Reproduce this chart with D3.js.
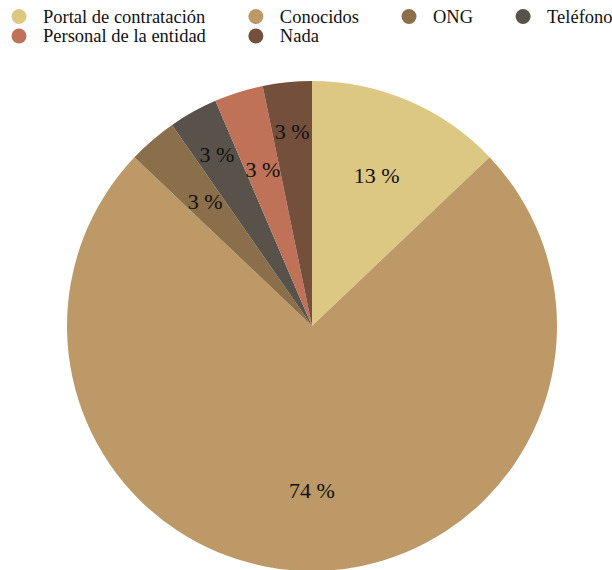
<!DOCTYPE html>
<html>
<head>
<meta charset="utf-8">
<script src="https://cdn.jsdelivr.net/npm/d3@7/dist/d3.min.js"></script>
<style>
  html, body { margin: 0; padding: 0; background: #fff; }
  svg { display: block; }
</style>
</head>
<body>
<svg id="chart" width="612" height="570"></svg>
<script>
// Answers: how people found out about the job offer (respondent counts)
const categories = [
  "Portal de contratación",
  "Conocidos",
  "ONG",
  "Teléfono",
  "Personal de la entidad",
  "Nada"
];
const counts = [4, 23, 1, 1, 1, 1];
const colors = ["#dcc783", "#bc9966", "#8a6f4a", "#58524a", "#bf7257", "#744f3c"];

const width = 612, height = 570;
const cx = 312, cy = 326, radius = 245;
const legendCols = 4;

const svg = d3.select("#chart");
const fontFamily = "'Liberation Serif', 'Times New Roman', Times, serif";

const data = categories.map((c, i) => ({ name: c, value: counts[i], color: colors[i] }));
const total = d3.sum(counts);

// ---- pie ----
const pie = d3.pie().value(d => d.value).sort(null);
const arcs = pie(data);
const arc = d3.arc().innerRadius(0).outerRadius(radius);

const g = svg.append("g").attr("transform", `translate(${cx},${cy})`);

g.selectAll("path.slice")
  .data(arcs)
  .join("path")
  .attr("class", "slice")
  .attr("d", arc)
  .attr("fill", d => d.data.color);

// labels: small neighbouring slices are staggered outward so their text does not collide
let run = 0;
const labelRadius = arcs.map(a => {
  const share = a.data.value / total;
  if (share < 0.05) {
    const r = run % 2 === 1 ? 0.8 : 0.67;
    run++;
    return r * radius;
  }
  run = 0;
  return 0.67 * radius;
});

g.selectAll("text.pct")
  .data(arcs)
  .join("text")
  .attr("class", "pct")
  .attr("transform", (d, i) => {
    const a = (d.startAngle + d.endAngle) / 2;
    const r = labelRadius[i];
    return `translate(${Math.sin(a) * r},${-Math.cos(a) * r})`;
  })
  .attr("text-anchor", "middle")
  .attr("dy", "0.35em")
  .attr("font-family", fontFamily)
  .attr("font-size", 22)
  .attr("fill", "#111")
  .text(d => `${Math.round(d.data.value / total * 100)} %`);

// ---- legend (row-wise flow, 4 columns) ----
const legendFont = 18.5;
const dotR = 7.5;
const rowY = [16.5, 36];
const textGap = 24;     // dot centre to label start
const itemGap = 50;     // label end to next dot centre

const legend = svg.append("g").attr("class", "legend");
const items = legend.selectAll("g.item")
  .data(data)
  .join("g")
  .attr("class", "item");

items.append("circle")
  .attr("r", dotR)
  .attr("fill", d => d.color);

items.append("text")
  .attr("x", textGap)
  .attr("y", 6)
  .attr("font-family", fontFamily)
  .attr("font-size", legendFont)
  .attr("fill", "#111")
  .text(d => d.name);

// column widths from the widest label in each column
const textW = [];
items.select("text").each(function (d, i) { textW[i] = this.getComputedTextLength(); });
const colW = d3.range(legendCols).map(c =>
  d3.max(textW.filter((w, i) => i % legendCols === c)));
const colX = [];
let x = 19;
for (let c = 0; c < legendCols; c++) {
  colX.push(x);
  x += textGap + colW[c] + itemGap;
}

items.attr("transform", (d, i) =>
  `translate(${colX[i % legendCols]},${rowY[Math.floor(i / legendCols)]})`);
</script>
</body>
</html>
